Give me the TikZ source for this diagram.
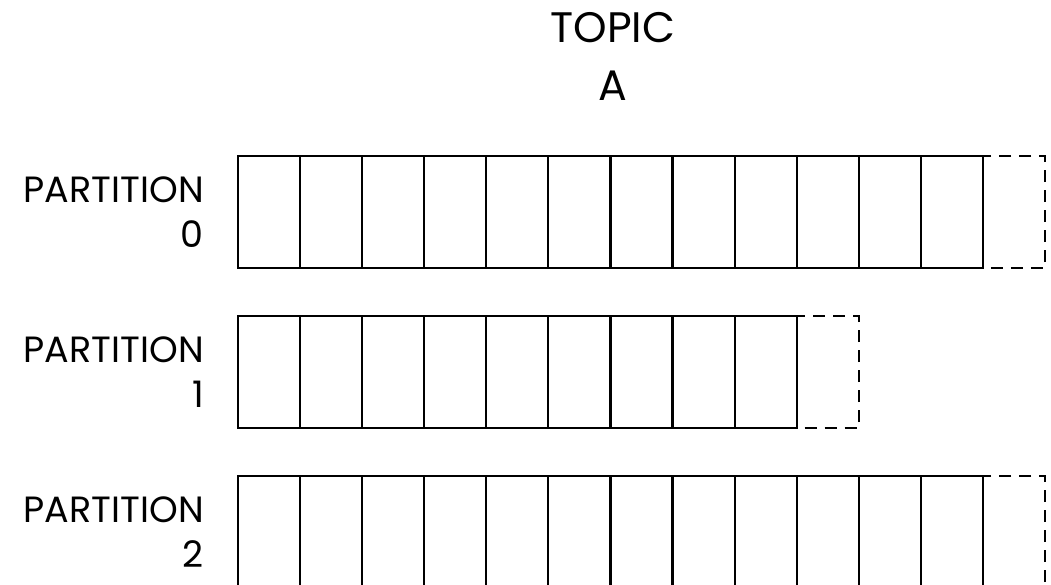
\documentclass[tikz,border=0pt]{standalone}
\usepackage{fontspec}
\setmainfont{Poppins}

\begin{document}
\begin{tikzpicture}[x=0.75pt, y=-0.75pt,
    cell/.style={draw=black, line width=1.6pt},
    spare/.style={draw=black, line width=1.6pt, dash pattern=on 9pt off 6pt},
    plbl/.style={anchor=east, align=right, inner sep=0pt, font=\fontsize{27.4}{33.75}\selectfont},
    tlbl/.style={align=center, inner sep=0pt, font=\fontsize{32}{43.5}\selectfont},
  ]
  \useasboundingbox (0,0) rectangle (1051,585);
  \clip (0,0) rectangle (1051,585);
  \node[tlbl] (topic) at (613,56) {TOPIC\\A};
  % partitions: index / top edge / number of written cells
  \foreach \p/\ytop/\ncell in {0/156/12, 1/316/9, 2/476/12} {
    \node[plbl] (part\p) at (204,\ytop+56) {PARTITION\\\p};
    \foreach \i in {1,...,\ncell}
      \draw[cell] ({238+(\i-1)*62.08},\ytop) rectangle ++(62.08,112);
    \draw[spare] ({238+\ncell*62.08},\ytop) rectangle ++(62.08,112);
  }
\end{tikzpicture}
\end{document}
